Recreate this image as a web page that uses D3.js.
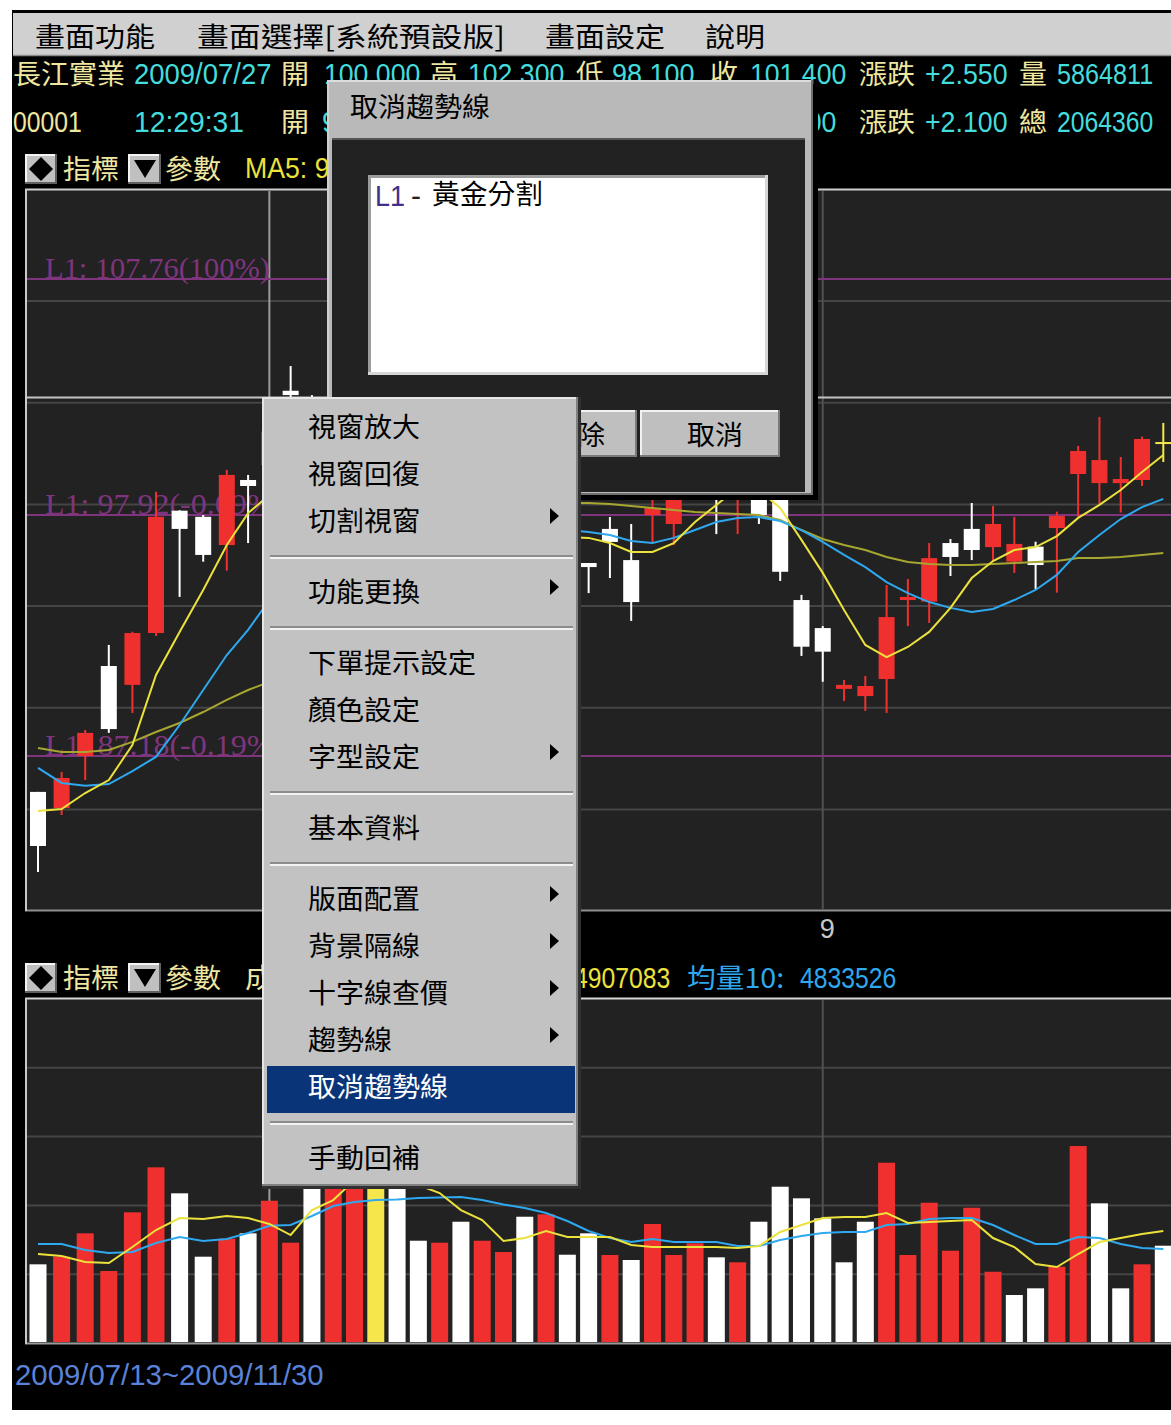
<!DOCTYPE html>
<html>
<head>
<meta charset="utf-8">
<script src="https://cdn.jsdelivr.net/npm/d3@7/dist/d3.min.js"></script>
<style>
body { margin: 0; background: #fff; }
svg { display: block; }
</style>
</head>
<body>
<svg id="chart" width="1171" height="1425"></svg>
<script>
// ---------- data ----------
var dates = ["07/13","07/14","07/15","07/16","07/17","07/20","07/21","07/22","07/23","07/24",
  "07/27","07/28","07/29","07/30","07/31","08/03","08/04","08/05","08/06","08/07",
  "08/10","08/11","08/12","08/13","08/14","08/17","08/18","08/19","08/20","08/21",
  "08/24","08/25","08/26","08/27","08/28","08/31","09/01","09/02","09/03","09/04",
  "09/07","09/08","09/09","09/10","09/11","09/14","09/15","09/16","09/17","09/18",
  "09/21","09/22","09/23"];

// candles hidden behind the popup/dialog are null
var openP = [85.58, 84.86, 87.18, 91.19, 90.35, 92.66, 98.10, 97.84, 96.58, 99.38, 100.00, 103.10, 102.60,
  null, null, null, null, null, null, null, null, null, null, null, null,
  95.78, 97.30, 95.91, 97.92, 97.52, 99.00, 99.80, 98.90, 98.55, 98.60, 94.13, 92.88, 90.17, 89.85,
  90.61, 94.13, 94.06, 96.67, 97.30, 96.49, 95.84, 96.51, 97.34, 99.63, 99.25, 99.25, 99.38, 100.92];
var highP = [85.58, 86.47, 88.34, 92.13, 92.72, 98.89, 98.12, 97.92, 99.80, 99.59, 102.30, 104.13, 102.92,
  null, null, null, null, null, null, null, null, null, null, null, null,
  95.78, 97.83, 97.52, 98.55, 99.20, 99.90, 100.20, 100.40, 98.90, 98.90, 94.36, 92.97, 90.57, 90.75,
  94.80, 95.07, 96.67, 96.85, 98.42, 98.30, 97.84, 96.73, 98.06, 100.80, 102.01, 100.34, 101.19, 101.76];
var lowP = [82.01, 84.55, 86.11, 88.21, 89.10, 92.53, 94.27, 95.84, 95.44, 96.67, 98.10, 101.50, 101.00,
  null, null, null, null, null, null, null, null, null, null, null, null,
  94.44, 95.11, 93.20, 96.67, 96.58, 98.75, 97.07, 97.07, 97.52, 94.98, 91.64, 90.49, 89.63, 89.19,
  89.10, 92.97, 93.11, 95.20, 95.91, 95.84, 95.34, 94.62, 94.46, 97.84, 98.38, 98.02, 99.13, 100.13];
var closeP = [83.17, 86.20, 88.21, 88.38, 92.66, 97.84, 97.30, 96.14, 99.59, 99.13, 101.40, 102.92, 102.20,
  null, null, null, null, null, null, null, null, null, null, null, null,
  95.60, 96.72, 94.04, 98.21, 98.80, 99.60, 98.90, 99.90, 97.92, 95.39, 92.05, 91.83, 90.35, 90.30,
  93.37, 94.27, 96.00, 96.05, 96.36, 97.52, 96.63, 95.69, 97.88, 100.59, 100.21, 99.42, 101.09, 100.92];

var ma5 = [84.73, 84.82, 85.53, 86.11, 87.67, 90.79, 92.71, 94.58, 96.58, 98.00, 98.75,
  99.38, 99.80, 100.00, 99.80, 99.38, 98.75, 98.34, 97.92, 97.70, 97.47, 97.25, 97.03, 96.90, 96.94,
  96.90, 96.67, 96.27, 96.27, 96.67, 97.61, 98.34, 99.05, 98.96, 98.21, 96.81, 95.34, 93.69, 92.13,
  91.59, 92.04, 92.71, 93.78, 95.11, 95.87, 96.36, 96.49, 96.98, 97.79, 98.34, 98.96, 99.71, 100.42];
var ma10 = [86.65, 85.98, 85.85, 85.93, 86.51, 87.14, 88.56, 90.12, 91.68, 92.80, 94.13,
  95.25, 96.14, 97.03, 97.70, 98.13, 98.55, 98.75, 98.75, 98.55, 98.21, 97.92, 97.61, 97.34, 97.25,
  97.16, 97.03, 96.76, 96.67, 96.90, 97.25, 97.61, 97.79, 97.83, 97.65, 97.25, 96.72, 96.14, 95.60,
  94.93, 94.44, 94.04, 93.78, 93.60, 93.73, 94.13, 94.58, 95.25, 96.27, 97.03, 97.74, 98.25, 98.59];
var ma20 = [87.54, 87.36, 87.36, 87.45, 87.81, 88.25, 88.65, 89.14, 89.68, 90.12, 90.48,
  90.92, 91.46, 92.13, 92.80, 93.46, 94.13, 94.80, 95.47, 96.14, 96.81, 97.39, 97.92, 98.25, 98.42,
  98.42, 98.38, 98.30, 98.21, 98.13, 98.05, 98.00, 97.96, 97.92, 97.70, 97.25, 96.85, 96.58, 96.36,
  96.05, 95.83, 95.74, 95.69, 95.69, 95.74, 95.78, 95.83, 95.87, 96.00, 96.00, 96.05, 96.14, 96.23];

var volume = [3243000, 3557000, 4521000, 2967000, 5387000, 7241000, 6170000, 3557000, 4298000, 4521000,
  5864811, 4134000, 7300000, 7900000, 8400000, 7000000, 6900000, 4216000, 4134000, 4999000,
  4216000, 3750000, 5205000, 5304000, 3639000, 4521000, 3627000, 3421000, 4904000, 3627000,
  4109000, 3532000, 3326000, 4999000, 6442000, 5964000, 5139000, 3326000, 4999000, 7431000,
  3627000, 5782000, 3804000, 5576000, 2938000, 1978000, 2254000, 3145000, 8119000, 5757000,
  2254000, 3243000, 4010000];
// u = up on the day, d = down, f = unchanged
var volDir = ["d","u","u","u","u","u","d","d","u","d","u","u","d","u","u","f","d","d","u","d",
  "u","u","d","u","d","d","u","d","u","u","u","d","u","d","d","d","d","d","d","u",
  "u","u","u","u","u","d","d","u","u","d","d","u","d"];
var volMa5 = [3668000, 3586000, 3338000, 3297000, 3956000, 4657000, 5152000, 5110000, 5234000, 5152000,
  4907083, 4451000, 5481000, 5893000, 6718000, 7130000, 6924000, 6512000, 6182000, 5481000,
  5069000, 4204000, 4327000, 4616000, 4369000, 4369000, 4369000, 4039000, 3956000, 3956000,
  3956000, 3956000, 3915000, 3998000, 4575000, 4863000, 5152000, 5193000, 5193000, 5358000,
  4946000, 4987000, 5028000, 5069000, 4327000, 3956000, 3256000, 3132000, 3668000, 4163000,
  4327000, 4492000, 4616000];
var volMa10 = [4080000, 4080000, 3833000, 3709000, 3750000, 4121000, 4369000, 4204000, 4286000, 4533000,
  4833526, 4863000, 5234000, 5646000, 5811000, 5893000, 5914000, 5976000, 5996000, 6017000,
  5893000, 5708000, 5564000, 5358000, 5028000, 4616000, 4327000, 4163000, 4286000, 4163000,
  4163000, 4163000, 3998000, 3998000, 4245000, 4410000, 4533000, 4575000, 4575000, 4863000,
  4904000, 5110000, 5152000, 5152000, 4863000, 4451000, 4080000, 4080000, 4369000, 4327000,
  4080000, 3915000, 3874000];

// golden section trend line
var fibLevels = [107.76, 97.92, 87.18];
var fibLabels = ["L1: 107.76(100%)", "L1: 97.92(-0.09%)", "L1: 87.18(-0.19%)"];

var topMenu = ["畫面功能", "畫面選擇[系統預設版]", "畫面設定", "說明"];
var quoteRow1 = ["長江實業","2009/07/27","開","100.000","高","102.300","低","98.100","收","101.400","漲跌","+2.550","量","5864811"];
// the middle of the second row sits under the dialog
var quoteRow2 = ["00001","12:29:31","開","99.850","101.000","漲跌","+2.100","總","2064360"];
var rangeText = "2009/07/13~2009/11/30";
var cursorBar = 10;

var popupItems = [
  {t: "視窗放大"}, {t: "視窗回復"}, {t: "切割視窗", sub: true}, {sep: true},
  {t: "功能更換", sub: true}, {sep: true},
  {t: "下單提示設定"}, {t: "顏色設定"}, {t: "字型設定", sub: true}, {sep: true},
  {t: "基本資料"}, {sep: true},
  {t: "版面配置", sub: true}, {t: "背景隔線", sub: true}, {t: "十字線查價", sub: true},
  {t: "趨勢線", sub: true}, {t: "取消趨勢線", on: true}, {sep: true},
  {t: "手動回補"}
];

// ---------- styles ----------
var CJK = '"Noto Sans CJK TC", "Noto Sans CJK SC", sans-serif';
var LAT = '"Liberation Sans", Arial, sans-serif';
var PALE = "#efe6a0", CYAN = "#44dcdc", MAY = "#ece23c", BLUE = "#2ea8ee", OLIVE = "#a6a630";
var RED = "#f0302e", WHITE = "#ffffff", YEL = "#f6e64c", PURPLE = "#7e357e";

var svg = d3.select("#chart");

function isWide(ch) { return /[\u2e80-\uffff]/.test(ch); }
function tok(g, s, x, y, fill, o) {
  o = o || {};
  var cjk = isWide(s), w = 0;
  for (var ch of s) w += isWide(ch) ? (o.cw || 28) : (o.aw || 13.75);
  return g.append("text").attr("x", x).attr("y", y).attr("fill", fill)
    .style("font-family", o.font || (cjk ? CJK : LAT))
    .style("font-size", (o.size || (cjk ? 27 : 29)) + "px")
    .attr("textLength", o.w || w).attr("lengthAdjust", "spacingAndGlyphs")
    .text(s);
}
function hline(g, x1, x2, y, c, w) {
  g.append("line").attr("x1", x1).attr("x2", x2).attr("y1", y).attr("y2", y)
    .attr("stroke", c).attr("stroke-width", w || 2);
}
function vline(g, x, y1, y2, c, w) {
  g.append("line").attr("x1", x).attr("x2", x).attr("y1", y1).attr("y2", y2)
    .attr("stroke", c).attr("stroke-width", w || 2);
}
function bevel(g, x, y, w, h, fill, light, dark) {
  g.append("rect").attr("x", x).attr("y", y).attr("width", w).attr("height", h).attr("fill", fill);
  hline(g, x, x + w, y + 1, light); vline(g, x + 1, y, y + h, light);
  hline(g, x, x + w, y + h - 1, dark); vline(g, x + w - 1, y, y + h, dark);
}

// ---------- window ----------
svg.append("rect").attr("width", 1171).attr("height", 1425).attr("fill", "#fff");
svg.append("rect").attr("x", 12).attr("y", 10).attr("width", 1159).attr("height", 1400).attr("fill", "#000");
svg.append("rect").attr("x", 13).attr("y", 13).attr("width", 1158).attr("height", 42).attr("fill", "#d0d0d0");
hline(svg, 13, 1171, 55.5, "#8a8a8a", 1.5);
var menuX = [35, 197, 545, 705];
topMenu.forEach(function (s, i) { tok(svg, s, menuX[i], 47, "#000", {cw: 30, aw: 19}); });

// quote rows
var row1X = [13, 134, 281, 324, 430, 468, 576, 612, 710, 750, 859, 925, 1019, 1057];
var row2X = [13, 134, 281, 322, 740, 859, 925, 1019, 1057];
quoteRow1.forEach(function (s, i) { tok(svg, s, row1X[i], 84, i % 2 ? CYAN : PALE); });
quoteRow2.forEach(function (s, i) { tok(svg, s, row2X[i], 132, isWide(s) || i === 0 ? PALE : CYAN); });

function indicatorRow(y0) {
  bevel(svg, 25, y0, 32, 30, "#c0c0c0", "#f4f4f4", "#606060");
  svg.append("path").attr("d", "M41," + (y0 + 3) + "L53," + (y0 + 15) + "L41," + (y0 + 27) + "L29," + (y0 + 15) + "Z").attr("fill", "#000");
  tok(svg, "指標", 63, y0 + 25, PALE);
  bevel(svg, 128, y0, 33, 30, "#c0c0c0", "#f4f4f4", "#606060");
  svg.append("path").attr("d", "M134," + (y0 + 6) + "L156," + (y0 + 6) + "L145," + (y0 + 24) + "Z").attr("fill", "#000");
  tok(svg, "參數", 165, y0 + 25, PALE);
}

// ---------- scales ----------
var xs = d3.scaleLinear().domain([0, 8, dates.length - 1]).range([38, 226.8, 1163.3]);
var ys = d3.scaleLinear().domain([fibLevels[2], fibLevels[1], fibLevels[0]]).range([756, 515, 279]);
var vs = d3.scaleLinear().domain([0, 14180000]).range([1343, 999]);
var f3 = d3.format(".3f");
var monthStarts = d3.range(1, dates.length).filter(function (i) { return dates[i].slice(0, 2) !== dates[i - 1].slice(0, 2); });
var popupLeft = 262, popupRight = 580;

// ---------- price panel ----------
indicatorRow(154);
tok(svg, "MA5: " + f3(ma5[cursorBar]), 245, 178, MAY);

svg.append("rect").attr("x", 26).attr("y", 190).attr("width", 1150).attr("height", 720).attr("fill", "#222");
hline(svg, 25, 1171, 189.5, "#cfcfcf"); hline(svg, 25, 1171, 910.5, "#8e8e8e"); vline(svg, 26, 189, 911, "#c8c8c8");
svg.append("clipPath").attr("id", "pclip").append("rect").attr("x", 27).attr("y", 191).attr("width", 1144).attr("height", 718);
var pg = svg.append("g").attr("clip-path", "url(#pclip)");

d3.range(6).forEach(function (k) { hline(pg, 27, 1171, 301 + k * 101.7, "#454545"); });
monthStarts.forEach(function (i) { vline(pg, xs(i), 191, 909, "#505050"); });
vline(pg, xs(cursorBar), 191, 909, "#9a9a9a");
hline(pg, 27, 1171, 397.5, "#c4c4c4");

fibLevels.forEach(function (v, k) {
  hline(pg, 27, 1171, ys(v), PURPLE);
  tok(pg, fibLabels[k], 45, ys(v) - 1, PURPLE, {font: '"Liberation Serif", serif', size: 30, aw: 14.06});
});

var candles = d3.range(dates.length).filter(function (i) { return openP[i] != null; }).map(function (i) {
  return {i: i, o: openP[i], h: highP[i], l: lowP[i], c: closeP[i]};
});
function cColor(d) { return d.c > d.o ? RED : (d.c < d.o ? WHITE : YEL); }
pg.selectAll("rect.wick").data(candles).join("rect").attr("class", "wick")
  .attr("x", function (d) { return xs(d.i) - 1; }).attr("width", 2)
  .attr("y", function (d) { return ys(d.h); })
  .attr("height", function (d) { return ys(d.l) - ys(d.h); })
  .attr("fill", cColor);
pg.selectAll("rect.body").data(candles).join("rect").attr("class", "body")
  .attr("x", function (d) { return xs(d.i) - 8; }).attr("width", 16)
  .attr("y", function (d) { return d.o === d.c ? ys(d.o) - 1 : ys(Math.max(d.o, d.c)); })
  .attr("height", function (d) { return Math.max(2, ys(Math.min(d.o, d.c)) - ys(Math.max(d.o, d.c))); })
  .attr("fill", cColor);

var pline = d3.line().x(function (d, i) { return xs(i); }).y(function (d) { return ys(d); });
[[ma20, OLIVE], [ma10, BLUE], [ma5, MAY]].forEach(function (s) {
  pg.append("path").attr("d", pline(s[0])).attr("fill", "none").attr("stroke", s[1]).attr("stroke-width", 2);
});

// month labels (the one under the popup is not drawn)
monthStarts.filter(function (i) { return xs(i) < popupLeft || xs(i) > popupRight; }).forEach(function (i) {
  svg.append("text").attr("x", xs(i) + 4.5).attr("y", 938).attr("text-anchor", "middle")
    .attr("fill", "#c8c8c8").style("font-family", LAT).style("font-size", "27px")
    .text(+dates[i].slice(0, 2));
});

// ---------- volume panel ----------
indicatorRow(963);
tok(svg, "成交量:", 245, 988, PALE);
tok(svg, "均量5:", 488, 988, MAY);
tok(svg, String(volMa5[cursorBar]), 574, 988, MAY);
tok(svg, "均量10:", 687, 988, BLUE);
tok(svg, String(volMa10[cursorBar]), 800, 988, BLUE);

svg.append("rect").attr("x", 26).attr("y", 999).attr("width", 1150).attr("height", 344).attr("fill", "#222");
hline(svg, 25, 1171, 998.5, "#d6d6d6"); hline(svg, 25, 1171, 1343.5, "#9a9a9a"); vline(svg, 26, 998, 1344, "#c8c8c8");
svg.append("clipPath").attr("id", "vclip").append("rect").attr("x", 27).attr("y", 1000).attr("width", 1144).attr("height", 342);
var vg = svg.append("g").attr("clip-path", "url(#vclip)");
d3.range(1, 5).forEach(function (k) { hline(vg, 27, 1171, vs(14180000 * k / 5), "#454545"); });
monthStarts.forEach(function (i) { vline(vg, xs(i), 1000, 1342, "#505050"); });
vline(vg, xs(cursorBar), 1000, 1342, "#9a9a9a");

var volColor = {u: RED, d: WHITE, f: YEL};
vg.selectAll("rect.vbar").data(volume).join("rect").attr("class", "vbar")
  .attr("x", function (d, i) { return xs(i) - 8.5; }).attr("width", 17)
  .attr("y", function (d) { return vs(d); })
  .attr("height", function (d) { return vs(0) - vs(d); })
  .attr("fill", function (d, i) { return volColor[volDir[i]]; });
var vline2 = d3.line().x(function (d, i) { return xs(i); }).y(function (d) { return vs(d); });
vg.append("path").attr("d", vline2(volMa10)).attr("fill", "none").attr("stroke", BLUE).attr("stroke-width", 2);
vg.append("path").attr("d", vline2(volMa5)).attr("fill", "none").attr("stroke", MAY).attr("stroke-width", 2);

tok(svg, rangeText, 15, 1385, "#5a82d8", {aw: 14.7});

// ---------- dialog: 取消趨勢線 ----------
var dg = svg.append("g");
dg.append("rect").attr("x", 332).attr("y", 85).attr("width", 486).attr("height", 415).attr("fill", "#000");
dg.append("rect").attr("x", 327).attr("y", 80).attr("width", 486).attr("height", 415).attr("fill", "#b9b9b9");
hline(dg, 327, 813, 81, "#dcdcdc"); vline(dg, 328, 80, 495, "#d0d0d0");
vline(dg, 812, 80, 495, "#707070"); hline(dg, 327, 813, 494, "#707070");
dg.append("rect").attr("x", 332).attr("y", 138).attr("width", 473).attr("height", 354).attr("fill", "#222");
hline(dg, 332, 805, 139, "#555");
tok(dg, "取消趨勢線", 350, 117, "#000");
dg.append("rect").attr("x", 368).attr("y", 175).attr("width", 400).attr("height", 200).attr("fill", "#fff");
hline(dg, 368, 768, 176.5, "#9c9c9c", 3); vline(dg, 369.5, 175, 375, "#9c9c9c", 3);
hline(dg, 368, 768, 373.5, "#d6d6d6", 3); vline(dg, 766.5, 175, 375, "#d6d6d6", 3);
tok(dg, "L1", 375, 206, "#40308a", {w: 30});
tok(dg, "-", 411, 206, "#222", {w: 10});
tok(dg, "黃金分割", 432, 204, "#000", {w: 111});
bevel(dg, 506, 410, 131, 47, "#bfbfbf", "#f2f2f2", "#7a7a7a");
tok(dg, "刪除", 549, 445, "#000");
bevel(dg, 640, 410, 140, 47, "#bfbfbf", "#f2f2f2", "#7a7a7a");
tok(dg, "取消", 687, 445, "#000");

// ---------- popup menu ----------
var mg = svg.append("g");
mg.append("rect").attr("x", popupLeft).attr("y", 397).attr("width", popupRight - popupLeft).attr("height", 791).attr("fill", "#c2c2c2");
hline(mg, 262, 580, 398, "#e6e6e6"); vline(mg, 263, 397, 1188, "#e6e6e6");
vline(mg, 577, 397, 1188, "#808080"); hline(mg, 262, 580, 1185, "#808080");
vline(mg, 579.5, 397, 1189, "#303030", 3); hline(mg, 262, 581, 1187.5, "#303030", 3);
var my = 404;
popupItems.forEach(function (it) {
  if (it.sep) {
    hline(mg, 270, 573, my + 11, "#8c8c8c"); hline(mg, 270, 573, my + 13, "#f2f2f2");
    my += 24;
    return;
  }
  if (it.on) mg.append("rect").attr("x", 267).attr("y", my + 2).attr("width", 308).attr("height", 47).attr("fill", "#0a3478");
  tok(mg, it.t, 308, my + 33, it.on ? "#fff" : "#000");
  if (it.sub) {
    var cy = my + 18;
    mg.append("path").attr("d", "M550," + (cy - 8) + "L559," + cy + "L550," + (cy + 8) + "Z").attr("fill", "#000");
  }
  my += 47;
});
</script>
</body>
</html>
